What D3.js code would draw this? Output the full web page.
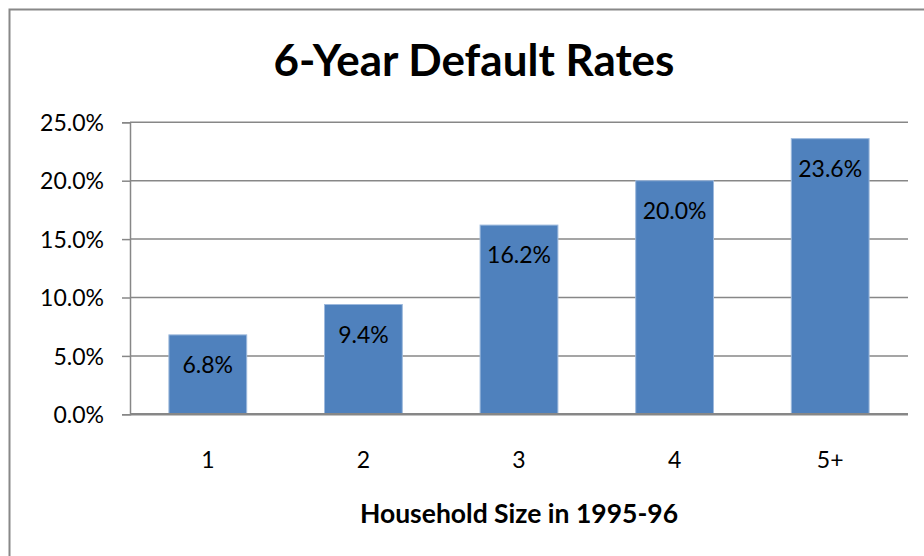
<!DOCTYPE html>
<html>
<head>
<meta charset="utf-8">
<script src="https://cdn.jsdelivr.net/npm/d3@7"></script>
<style>
  html, body { margin: 0; padding: 0; background: #fff; }
  svg { display: block; }
  text { font-family: Lato, "Open Sans", sans-serif; }
</style>
</head>
<body>
<svg id="chart" width="924" height="556"></svg>
<script>
const categories = ["1", "2", "3", "4", "5+"];
const values = [0.068, 0.094, 0.162, 0.200, 0.236];
const yTicks = [0, 0.05, 0.10, 0.15, 0.20, 0.25];
const chartTitle = "6-Year Default Rates";
const xTitle = "Household Size in 1995-96";

const svg = d3.select("#chart");
const plot = { left: 130, right: 908, top: 122.3, bottom: 414.3 };

// outer chart border (extends beyond the visible frame)
svg.append("rect")
  .attr("x", 9.5).attr("y", 9.5)
  .attr("width", 960).attr("height", 600)
  .attr("fill", "#fff").attr("stroke", "#888").attr("stroke-width", 2);

const x = d3.scaleBand().domain(categories)
  .range([plot.left, plot.right]).paddingInner(0.5).paddingOuter(0.25);
const y = d3.scaleLinear().domain([0, 0.25]).range([plot.bottom, plot.top]);

// gridlines
svg.append("g").selectAll("line").data(yTicks.filter(d => d > 0)).join("line")
  .attr("x1", plot.left).attr("x2", plot.right)
  .attr("y1", d => y(d)).attr("y2", d => y(d))
  .attr("stroke", "#878787").attr("stroke-width", 1.5);

// y axis
const yAxis = d3.axisLeft(y).tickValues(yTicks).tickFormat(d3.format(".1%"))
  .tickSize(8).tickPadding(18);
const gy = svg.append("g").attr("transform", `translate(${plot.left},0)`).call(yAxis);
gy.select(".domain").attr("stroke", "#878787").attr("stroke-width", 1.5);
gy.selectAll(".tick line").attr("stroke", "#878787").attr("stroke-width", 1.5);
gy.selectAll(".tick text").attr("font-size", 23).attr("fill", "#000")
  .attr("font-family", "Lato, sans-serif").attr("dy", "0.36em");

// bars
svg.append("g").selectAll("rect").data(values).join("rect")
  .attr("x", (d, i) => x(categories[i]))
  .attr("y", d => y(d))
  .attr("width", x.bandwidth())
  .attr("height", d => y(0) - y(d))
  .attr("fill", "#4F81BD")
  .attr("stroke", "#9DB9DD").attr("stroke-width", 1);

// data labels (inside end)
svg.append("g").selectAll("text").data(values).join("text")
  .attr("x", (d, i) => x(categories[i]) + x.bandwidth() / 2)
  .attr("y", d => y(d) + 38)
  .attr("text-anchor", "middle")
  .attr("font-size", 23).attr("fill", "#000")
  .text(d => d3.format(".1%")(d));

// x axis
const xAxis = d3.axisBottom(x).tickSize(0).tickPadding(40);
const gx = svg.append("g").attr("transform", `translate(0,${plot.bottom})`).call(xAxis);
gx.select(".domain").attr("stroke", "#878787").attr("stroke-width", 2.5)
  .attr("d", `M${plot.left},0H${plot.right}`);
gx.selectAll(".tick text").attr("font-size", 23).attr("fill", "#000")
  .attr("font-family", "Lato, sans-serif").attr("y", 54).attr("dy", null);

// titles
svg.append("text")
  .attr("x", 474).attr("y", 76)
  .attr("text-anchor", "middle")
  .attr("font-size", 44).attr("font-weight", "bold").attr("fill", "#000")
  .text(chartTitle);

svg.append("text")
  .attr("x", (plot.left + plot.right) / 2).attr("y", 523)
  .attr("text-anchor", "middle")
  .attr("font-size", 26.5).attr("font-weight", "bold").attr("fill", "#000")
  .text(xTitle);
</script>
</body>
</html>
